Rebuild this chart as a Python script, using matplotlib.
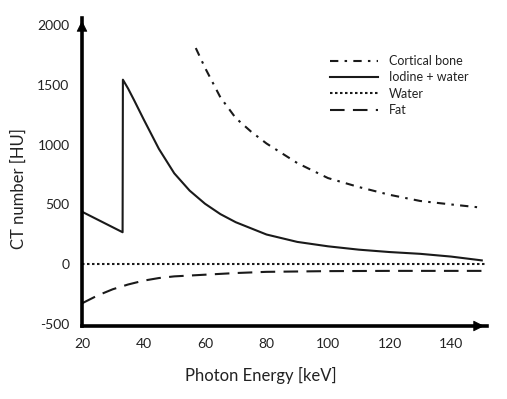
import matplotlib
matplotlib.use("Agg")
import matplotlib.pyplot as plt

plt.rcParams['font.family'] = ['Lato', 'DejaVu Sans']
plt.rcParams['axes.unicode_minus'] = False

# Data
bone_E = [57, 60, 65, 70, 75, 80, 90, 100, 110, 120, 130, 140, 150]
bone_HU = [1810, 1645, 1397, 1223, 1109, 1010, 846, 720, 645, 580, 528, 499, 472]

iodine_E = [20, 33.2, 33.3, 35, 37, 40, 45, 50, 55, 60, 65, 70, 80, 90, 100, 110, 120, 130, 140, 150]
iodine_HU = [438, 266, 1545, 1470, 1370, 1215, 965, 760, 615, 505, 418, 350, 247, 185, 148, 120, 100, 85, 62, 30]

water_E = [20, 152]
water_HU = [0, 0]

fat_E = [20, 25, 30, 35, 40, 45, 50, 60, 70, 80, 100, 120, 150]
fat_HU = [-330, -265, -212, -172, -140, -118, -104, -90, -76, -66, -60, -58, -58]

xticks = [20, 40, 60, 80, 100, 120, 140]
yticks = [-500, 0, 500, 1000, 1500, 2000]

fig = plt.figure(figsize=(5.07, 3.99), dpi=100)
ax = fig.add_axes([82/507, 73/399, (487-82)/507, (381-73)/399])

lw = 1.5
ax.plot(bone_E, bone_HU, color='#1a1a1a', lw=lw, dashes=(4, 3, 1.2, 3), label='Cortical bone')
ax.plot(iodine_E, iodine_HU, color='#1a1a1a', lw=lw, label='Iodine + water')
ax.plot(water_E, water_HU, color='#1a1a1a', lw=lw, dashes=(1.2, 1.2), label='Water')
ax.plot(fat_E, fat_HU, color='#1a1a1a', lw=lw, dashes=(7, 4), label='Fat')

ax.set_xlim(20, 151.7)
ax.set_ylim(-520, 2062)
ax.set_xticks(xticks)
ax.set_yticks(yticks)
ax.tick_params(length=0, labelsize=10, colors='#222222')
ax.tick_params(axis='x', pad=9)
ax.tick_params(axis='y', pad=9)

for s in ['top', 'right']:
    ax.spines[s].set_visible(False)
for s in ['left', 'bottom']:
    ax.spines[s].set_linewidth(2.6)
    ax.spines[s].set_color('black')

# arrowheads
ax.annotate('', xy=(1.0, 0), xytext=(0.97, 0), xycoords='axes fraction',
            arrowprops=dict(arrowstyle='-|>,head_length=0.7,head_width=0.35', color='black', lw=0.5),
            annotation_clip=False)
ax.annotate('', xy=(0, 1.0), xytext=(0, 0.97), xycoords='axes fraction',
            arrowprops=dict(arrowstyle='-|>,head_length=0.7,head_width=0.35', color='black', lw=0.5),
            annotation_clip=False)

ax.set_xlabel('Photon Energy [keV]', fontsize=12, color='#222222')
ax.xaxis.set_label_coords((261-82)/405, -(375-326)/308)
ax.xaxis.label.set_va('center')
ax.set_ylabel('CT number [HU]', fontsize=12, color='#222222')
ax.yaxis.set_label_coords(-(82-19)/405, (326-189)/308)
ax.yaxis.label.set_va('center')

leg = ax.legend(loc='upper left', bbox_to_anchor=(330/507, 1-55/399), bbox_transform=fig.transFigure,
                frameon=False, fontsize=9, handlelength=3.8, handletextpad=0.9,
                labelspacing=0.35, borderpad=0, borderaxespad=0)
for t in leg.get_texts():
    t.set_color('#222222')

fig.savefig('out.png', dpi=100)
